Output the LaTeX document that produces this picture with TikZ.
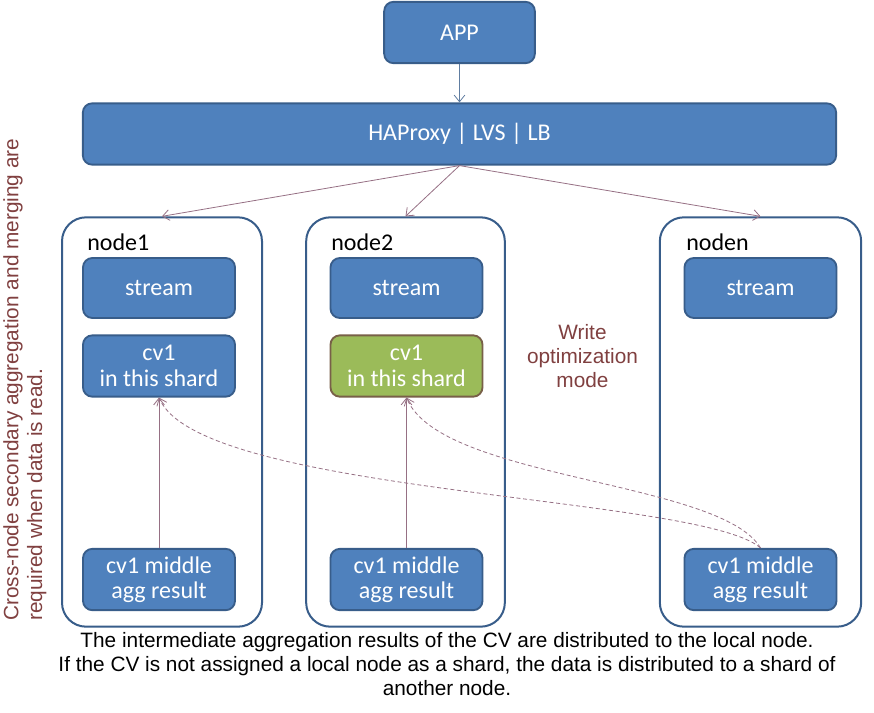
\documentclass[tikz,border=0pt]{standalone}
\usepackage{xcolor}
\usepackage{fontspec}
\setmainfont{Carlito}
\newfontfamily\arialfont{Liberation Sans}
\usepackage{tikz}
\usetikzlibrary{arrows.meta}

\definecolor{boxblue}{RGB}{79,129,189}
\definecolor{edgeblue}{RGB}{56,93,138}
\definecolor{shardgreen}{RGB}{155,187,89}
\definecolor{shardedge}{RGB}{120,96,72}
\definecolor{notered}{RGB}{128,64,64}
\definecolor{linkmauve}{RGB}{150,112,132}

\begin{document}
\begin{tikzpicture}[x=0.75pt, y=-0.75pt, font=\fontsize{18}{21}\selectfont]
	\useasboundingbox (0,0) rectangle (874,713);
	% Define styles
	\tikzstyle{blockbox}=[rectangle, rounded corners=7pt, draw=edgeblue, line width=1.4pt, fill=boxblue, text=white, align=center, inner sep=0pt]
	\tikzstyle{shardbox}=[blockbox, draw=shardedge, fill=shardgreen]
	\tikzstyle{nodebox}=[rectangle, rounded corners=18pt, draw=edgeblue, line width=1.5pt, fill=white, inner sep=0pt]
	\tikzstyle{nodename}=[anchor=west, inner sep=0pt, text=black]
	\tikzstyle{notetext}=[inner sep=0pt, font=\arialfont\fontsize{15.6}{17.8}\selectfont]
	\tikzstyle{link}=[draw=linkmauve, line width=0.6pt, -{Straight Barb[length=5pt, width=8pt]}]
	\tikzstyle{readlink}=[link, dashed, dash pattern=on 3pt off 2pt]

	% Entry and load balancer
	\node[blockbox, minimum width=113pt, minimum height=46pt] (app) at (459.5,32.5) {APP};
	\node[blockbox, minimum width=565pt, minimum height=46pt] (lb) at (459.5,134) {HAProxy | LVS | LB};

	% Cluster nodes
	\node[nodebox, minimum width=150pt, minimum height=307pt] (n1) at (162,422) {};
	\node[nodebox, minimum width=149pt, minimum height=307pt] (n2) at (405.5,422) {};
	\node[nodebox, minimum width=151pt, minimum height=307pt] (nn) at (760.5,422) {};
		\node[nodename] at (87,242) {node1};
		\node[nodename] at (331,242) {node2};
		\node[nodename] at (686,242) {noden};

	% node1
		\node[blockbox, minimum width=114pt, minimum height=45pt] (st1) at (159,288) {stream};
		\node[blockbox, minimum width=114pt, minimum height=46pt] (cv1) at (159,366) {cv1\\[-2pt]in this shard};
		\node[blockbox, minimum width=114pt, minimum height=46pt] (agg1) at (159,579.5) {cv1 middle\\[-2pt]agg result};
	% node2
		\node[blockbox, minimum width=114pt, minimum height=45pt] (st2) at (406.5,288) {stream};
		\node[shardbox, minimum width=114pt, minimum height=46pt] (cv2) at (406.5,366) {cv1\\[-2pt]in this shard};
		\node[blockbox, minimum width=114pt, minimum height=46pt] (agg2) at (406.5,579.5) {cv1 middle\\[-2pt]agg result};
	% noden
		\node[blockbox, minimum width=114pt, minimum height=45pt] (stn) at (760.5,288) {stream};
		\node[blockbox, minimum width=114pt, minimum height=46pt] (aggn) at (760.5,579.5) {cv1 middle\\[-2pt]agg result};

	% Notes
	\node[notetext, text=notered, align=center] (wmode) at (582.5,356) {Write\\optimization\\mode};
	\node[notetext, text=notered, align=left, rotate=90, anchor=north west] (rmode) at (3,621) {Cross-node secondary aggregation and merging are\\required when data is read.};
	\node[notetext, align=center] (summary) at (447,664) {The intermediate aggregation results of the CV are distributed to the local node.\\If the CV is not assigned a local node as a shard, the data is distributed to a shard of\\another node.};

	% Connectors
	\draw[link, draw=edgeblue!80] (app) -- (lb);
	\draw[link] (lb.south) -- (n1.north);
	\draw[link] (lb.south) -- (n2.north);
	\draw[link] (lb.south) -- (nn.north);
	\draw[link] (agg1) -- (cv1);
	\draw[link] (agg2) -- (cv2);
	\draw[readlink] (aggn.north) .. controls (700,495) and (200,495) .. (cv1.south);
	\draw[readlink] (aggn.north) .. controls (720,480) and (440,480) .. (cv2.south);
\end{tikzpicture}
\end{document}
